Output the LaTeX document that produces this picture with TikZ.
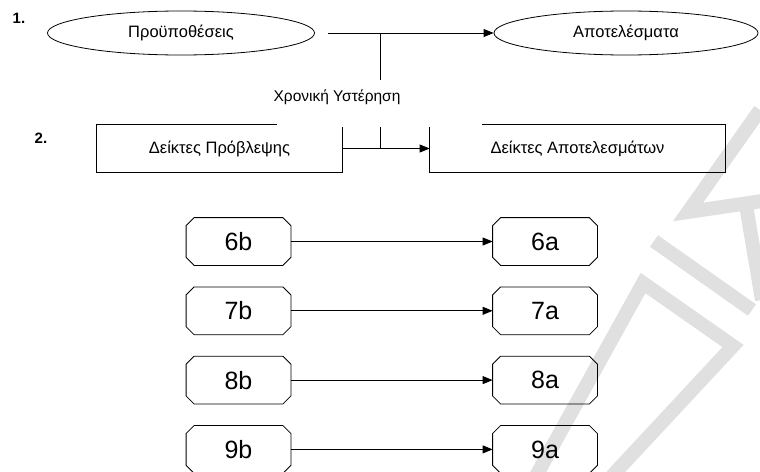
\documentclass[tikz,border=0pt]{standalone}
\usepackage{fontspec}
\setmainfont{Liberation Sans}
\usetikzlibrary{arrows.meta,shapes.geometric}

\begin{document}
\begin{tikzpicture}[x=1pt,y=-1pt,
  line width=0.8pt,
  arr/.style={-{Triangle[length=10pt,width=8pt]}},
  oval/.style={ellipse,draw,inner sep=0pt,minimum height=44pt,font=\fontsize{16.5}{18}\selectfont},
  plainbox/.style={draw=none,inner sep=0pt,minimum height=47pt,font=\fontsize{16.5}{18}\selectfont},
  itembox/.style={rectangle,draw=none,inner sep=0pt,minimum width=104pt,minimum height=47pt,
    font=\fontsize{25}{27}\selectfont},
  num/.style={inner sep=0pt,font=\bfseries\fontsize{15}{17}\selectfont},
  lbl/.style={inner sep=0pt,font=\fontsize{15.5}{17}\selectfont},
  wm/.style={line width=14pt,draw=black!12,line join=miter}
]
\useasboundingbox (0,0) rectangle (760,471);

% light background lettering
\draw[wm] (760,110) -- (688,212) -- (762,201);
\draw[wm] (746,205) -- (762,300);
\draw[wm] (654,241) -- (752,310);
\draw[wm] (536,476) -- (643,283) -- (733,346) -- (612,476);

% numbering
\node[num] (n1) at (19,18) {1.};
\node[num] (n2) at (41,138) {2.};

% row 1: conditions and results
\node[oval,minimum width=267pt] (cond) at (181,33) {Προϋποθέσεις};
\node[oval,minimum width=264pt] (res) at (626,33) {Αποτελέσματα};
\draw[arr] ([xshift=13pt]cond.east) -- (res.west);
\coordinate (lagA) at (380,33);
\coordinate (lagB) at (380,80);
\draw (lagA) -- (lagB);
\node[lbl] (lag) at (337,97) {Χρονική Υστέρηση};

% row 2: indicators
\node[plainbox,minimum width=245pt] (pred) at (219.5,148.5) {Δείκτες Πρόβλεψης};
\node[plainbox,minimum width=295pt] (outc) at (577.5,148.5) {Δείκτες Αποτελεσμάτων};
\draw ([xshift=180pt]pred.north west) -- (pred.north west) -- (pred.south west)
  -- (pred.south east) -- ([yshift=-2pt]pred.north east);
\draw ([yshift=-2pt]outc.north west) -- (outc.south west) -- (outc.south east)
  -- (outc.north east) -- ([xshift=52pt]outc.north west);
\draw[arr] (pred.east) -- (outc.west);
\coordinate (lagC) at (380,127);
\coordinate (lagD) at (380,148.5);
\draw (lagC) -- (lagD);

% rows of paired items, each in a box with cut corners
\newcommand\cutbox[1]{%
  \draw ([xshift=8pt]#1.north west) -- ([xshift=-8pt]#1.north east)
    -- ([yshift=-8pt]#1.north east) -- ([yshift=8pt]#1.south east)
    -- ([xshift=-8pt]#1.south east) -- ([xshift=8pt]#1.south west)
    -- ([yshift=8pt]#1.south west) -- ([yshift=-8pt]#1.north west) -- cycle;}
\foreach \k/\y in {6/241.5,7/310.8,8/380.1,9/449.4}{
  \node[itembox] (b\k) at (238.5,\y) {\k b};
  \node[itembox] (a\k) at (545,\y) {\k a};
  \cutbox{b\k}
  \cutbox{a\k}
  \draw[arr] (b\k) -- (a\k);
}
\end{tikzpicture}
\end{document}
